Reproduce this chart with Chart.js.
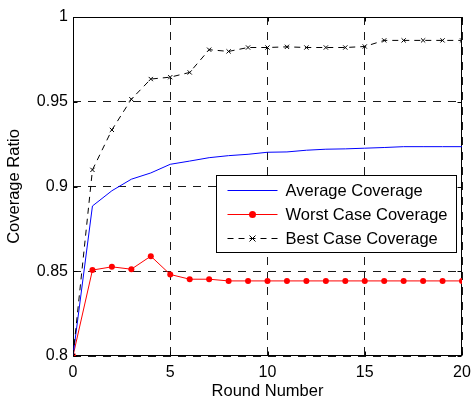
<!DOCTYPE html>
<html>
<head>
<meta charset="utf-8">
<script src="https://cdn.jsdelivr.net/npm/chart.js@4.4.0/dist/chart.umd.min.js"></script>
<style>
  html, body { margin: 0; padding: 0; background: #fff; }
  canvas { display: block; }
</style>
</head>
<body>
<canvas id="chart" width="472" height="400"></canvas>
<script>
const rounds = [0, 1, 2, 3, 4, 5, 6, 7, 8, 9, 10, 11, 12, 13, 14, 15, 16, 17, 18, 19, 20]
const averageCoverage = [0.800, 0.8885, 0.8975, 0.9043, 0.9080, 0.9131, 0.9150, 0.9170, 0.9182, 0.9190, 0.9202,
  0.9204, 0.9214, 0.9220, 0.9222, 0.9226, 0.9230, 0.9235, 0.9235, 0.9235, 0.9235]
const worstCoverage = [0.800, 0.8507, 0.8526, 0.8512, 0.8589, 0.8481, 0.8453, 0.8453, 0.8443, 0.8443, 0.8443,
  0.8443, 0.8443, 0.8443, 0.8443, 0.8443, 0.8443, 0.8443, 0.8443, 0.8443, 0.8443]
const bestCoverage = [0.800, 0.9098, 0.9334, 0.9515, 0.9634, 0.9645, 0.9673, 0.9807, 0.9797, 0.9820, 0.9820,
  0.9824, 0.9820, 0.9820, 0.9820, 0.9826, 0.9862, 0.9862, 0.9862, 0.9862, 0.9862]
const seriesNames = ['Average Coverage', 'Worst Case Coverage', 'Best Case Coverage']
const xTitle = 'Round Number'
const yTitle = 'Coverage Ratio'

const FONT = 'Arial, "Liberation Sans", sans-serif'
const toPoints = (values) => values.map((v, i) => ({ x: rounds[i], y: v }))

// Matlab style box round the plot, with short inward ticks on all four sides
const framePlugin = {
  id: 'frame',
  beforeDatasetsDraw(chart) {
    const { ctx, chartArea: a, scales: { x, y } } = chart
    const l = Math.round(a.left) + 0.5, r = Math.round(a.right) - 0.5
    const t = Math.round(a.top) + 0.5, b = Math.round(a.bottom) - 0.5
    ctx.save()
    ctx.strokeStyle = '#000'
    ctx.lineWidth = 1
    ctx.strokeRect(l, t, r - l, b - t)
    ctx.beginPath()
    x.ticks.forEach((tk) => {
      const px = Math.round(x.getPixelForValue(tk.value)) + 0.5
      ctx.moveTo(px, b); ctx.lineTo(px, b - 4)
      ctx.moveTo(px, t); ctx.lineTo(px, t + 4)
    })
    y.ticks.forEach((tk) => {
      const py = Math.round(y.getPixelForValue(tk.value)) + 0.5
      ctx.moveTo(l, py); ctx.lineTo(l + 4, py)
      ctx.moveTo(r, py); ctx.lineTo(r - 4, py)
    })
    ctx.stroke()
    ctx.restore()
  }
}

function drawMarker(ctx, style, cx, cy, radius, color) {
  ctx.save()
  ctx.fillStyle = color
  ctx.strokeStyle = color
  ctx.setLineDash([])
  ctx.lineWidth = 1
  if (style === 'circle') {
    ctx.beginPath(); ctx.arc(cx, cy, radius, 0, Math.PI * 2); ctx.fill()
  } else if (style === 'crossRot') {
    ctx.beginPath()
    ctx.moveTo(cx - radius, cy - radius); ctx.lineTo(cx + radius, cy + radius)
    ctx.moveTo(cx - radius, cy + radius); ctx.lineTo(cx + radius, cy - radius)
    ctx.stroke()
  }
  ctx.restore()
}

// Legend box inside the plot, lower right
const boxLegend = {
  id: 'boxLegend',
  afterDraw(chart) {
    const { ctx, chartArea: a } = chart
    const right = Math.round(a.right) - 5.5
    const left = right - 240
    const top = Math.round(a.top) + 158.5
    const bottom = top + 77
    ctx.save()
    ctx.fillStyle = '#fff'
    ctx.fillRect(left, top, right - left, bottom - top)
    ctx.strokeStyle = '#000'
    ctx.lineWidth = 1
    ctx.strokeRect(left, top, right - left, bottom - top)
    ctx.font = '16.5px ' + FONT
    ctx.textBaseline = 'middle'
    ctx.textAlign = 'left'
    chart.data.datasets.forEach((ds, i) => {
      const cy = Math.round(top + 14 + i * 24) + 0.5
      ctx.strokeStyle = ds.borderColor
      ctx.lineWidth = ds.borderWidth
      ctx.setLineDash(ds.borderDash || [])
      ctx.beginPath()
      ctx.moveTo(left + 11, cy)
      ctx.lineTo(left + 61, cy)
      ctx.stroke()
      if (ds.pointRadius > 0) {
        const r = ds.pointStyle === 'circle' ? ds.pointRadius + 0.5 : ds.pointRadius
        drawMarker(ctx, ds.pointStyle, left + 36, cy, r, ds.pointBackgroundColor || ds.borderColor)
      }
      ctx.fillStyle = '#000'
      ctx.fillText(ds.label, left + 69, cy + 1)
    })
    ctx.restore()
  }
}

new Chart(document.getElementById('chart'), {
  type: 'line',
  data: {
    datasets: [
      {
        label: seriesNames[0],
        data: toPoints(averageCoverage),
        borderColor: '#0000ff',
        borderWidth: 1,
        pointRadius: 0,
        order: 2
      },
      {
        label: seriesNames[1],
        data: toPoints(worstCoverage),
        borderColor: '#ff0000',
        backgroundColor: '#ff0000',
        pointBackgroundColor: '#ff0000',
        borderWidth: 1,
        pointStyle: 'circle',
        pointRadius: 3,
        pointBorderWidth: 0,
        order: 3
      },
      {
        label: seriesNames[2],
        data: toPoints(bestCoverage),
        borderColor: '#000000',
        pointBorderColor: '#000000',
        borderWidth: 1,
        borderDash: [6, 5],
        pointStyle: 'crossRot',
        pointRadius: 3,
        pointBorderWidth: 1,
        order: 1
      }
    ]
  },
  plugins: [framePlugin, boxLegend],
  options: {
    responsive: false,
    devicePixelRatio: 1,
    animation: false,
    layout: { padding: { top: 17, right: 5, left: 0, bottom: 0 } },
    plugins: {
      legend: { display: false },
      tooltip: { enabled: false }
    },
    scales: {
      x: {
        type: 'linear',
        min: 0,
        max: 20,
        // the last label may hang over the right edge, as in the original
        afterFit: (scale) => { scale.height = 44; scale.paddingRight = 10 },
        grid: { color: '#1a1a1a', drawTicks: false, lineWidth: 1 },
        border: { display: false, dash: [8, 7] },
        ticks: { stepSize: 5, padding: 7, color: '#000', font: { family: FONT, size: 16 } },
        title: {
          display: true, text: xTitle, color: '#000', padding: { top: 0, bottom: 0 },
          font: { family: FONT, size: 16.5, lineHeight: 1 }
        }
      },
      y: {
        min: 0.8,
        max: 1,
        afterFit: (scale) => { scale.width = 73 },
        grid: { color: '#1a1a1a', drawTicks: false, lineWidth: 1 },
        border: { display: false, dash: [8, 7] },
        ticks: {
          stepSize: 0.05,
          padding: 5,
          color: '#000',
          font: { family: FONT, size: 16 },
          callback: (v) => String(Number(v.toFixed(2)))
        },
        title: {
          display: true, text: yTitle, color: '#000', padding: { top: 5, bottom: 0 },
          font: { family: FONT, size: 16.5 }
        }
      }
    }
  }
})
</script>
</body>
</html>
